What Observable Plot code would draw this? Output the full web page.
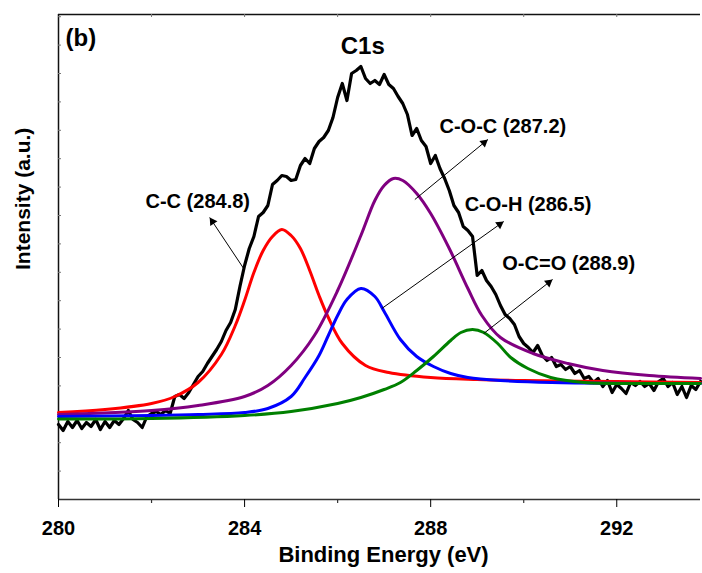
<!DOCTYPE html>
<html>
<head>
<meta charset="utf-8">
<script src="https://cdn.jsdelivr.net/npm/d3@7"></script>
<script src="https://cdn.jsdelivr.net/npm/@observablehq/plot@0.6"></script>
<style>
  html, body { margin: 0; padding: 0; background: #fff; overflow: hidden; }
  #chart svg { display: block; }
</style>
</head>
<body>
<div id="chart"></div>
<script>
// Measured C1s spectrum, 280.0–293.8 eV in 0.1 eV steps (intensity, a.u.)
const spectrumStart = 280.0;
const spectrumStep = 0.1;
const spectrum = [
  75, 69, 78, 72, 79, 71, 77, 73, 80, 70,
  78, 72, 79, 75, 81, 89, 80, 77, 72, 83,
  86, 88, 85, 89, 86, 103, 105, 101, 107, 115,
  123, 128, 136, 143, 150, 158, 169, 177, 190, 213,
  234, 251, 263, 283, 287, 294, 315, 319, 324, 323,
  319, 320, 334, 341, 336, 351, 358, 362, 369, 382,
  402, 416, 399, 426, 429, 433, 421, 416, 419, 415,
  425, 415, 411, 403, 396, 385, 364, 371, 359, 353,
  336, 344, 331, 321, 309, 294, 287, 273, 269, 263,
  224, 229, 219, 213, 205, 194, 185, 181, 175, 163,
  156, 152, 147, 154, 144, 139, 142, 133, 135, 130,
  133, 126, 129, 121, 123, 117, 121, 113, 119, 107,
  115, 111, 106, 117, 114, 118, 113, 116, 109, 118,
  121, 113, 117, 105, 113, 102, 114, 110, 118
];

// Fitted components (peak + background), energy in eV and intensity in a.u.
const ccEnergy    = [280, 281, 282, 282.5, 283, 283.5, 283.8, 284.0, 284.2, 284.4, 284.6, 284.8, 285.0, 285.2, 285.4, 285.6, 285.8, 286.1, 286.6, 287.1, 288, 289, 290, 292, 293.8];
const ccIntensity = [87, 90, 96, 103, 117, 145, 174, 199, 227, 249, 263, 270, 264, 251, 229, 204, 182, 156, 134, 127, 122, 120, 119, 118, 117];

const cocEnergy    = [280, 282, 283, 284, 284.5, 285, 285.5, 286, 286.5, 286.8, 287.0, 287.2, 287.4, 287.7, 288.0, 288.4, 288.8, 289.1, 289.5, 290.2, 290.95, 291.7, 292.7, 293.8];
const cocIntensity = [85, 89, 94, 103, 114, 134, 164, 209, 264, 299, 314, 321, 319, 306, 286, 251, 211, 184, 162, 146, 136, 129, 124, 121];

const cohEnergy    = [280, 282, 283, 284, 284.5, 285, 285.3, 285.6, 285.8, 286.0, 286.2, 286.5, 286.8, 287.0, 287.35, 287.7, 288.06, 288.43, 288.8, 289.5, 290.6, 293.8];
const cohIntensity = [83, 84, 85, 87, 91, 103, 122, 144, 164, 184, 200, 211, 203, 188, 160, 143, 133, 126, 122, 119, 117, 116];

const ocoEnergy    = [280, 282, 284, 285, 286, 286.5, 287.0, 287.35, 287.7, 288.06, 288.43, 288.65, 288.9, 289.14, 289.44, 289.72, 290.09, 290.58, 291.3, 292.37, 293.8];
const ocoIntensity = [80.5, 81, 84, 88, 96, 102, 110, 117, 129, 143, 159, 167, 170, 167, 156, 142, 131, 122, 117, 116, 116];

// Peak annotations: label text, label anchor, and arrow from curve to label
const peakNames      = ["C-C (284.8)", "C-O-C (287.2)", "C-O-H (286.5)", "O-C=O (288.9)"];
const labelEnergy    = [281.87, 288.19, 288.73, 289.54];
const labelIntensity = [292, 367, 289, 230];
const arrowFromE     = [283.98, 287.66, 286.95, 289.14];
const arrowFromI     = [231, 300, 191, 166];
const arrowToE       = [283.25, 289.23, 289.57, 290.62];
const arrowToI       = [282, 360, 278, 220];

// Axis ticks
const majorTicks = [280, 284, 288, 292];
const minorTicks = [282, 286, 290];
const topTicks   = [282, 284, 286, 288, 290, 292];
const yTicks     = d3.range(0, 485, 28.4);

// Layout
const W = 702, H = 573;
const mL = 58, mR = 2, mT = 14, mB = 74;
const xDomain = [280, 293.8];
const yDomain = [0, 485];
const kx = (W - mL - mR) / (xDomain[1] - xDomain[0]);
const ky = (H - mT - mB) / (yDomain[1] - yDomain[0]);

const font = "'Liberation Sans', Arial, Helvetica, sans-serif";

const spectrumRows = spectrum.map((v, i) => ({E: spectrumStart + i * spectrumStep, I: v}));
const comp = (es, is) => es.map((e, i) => ({E: e, I: is[i]}));
const fits = [
  {rows: comp(ccEnergy, ccIntensity), color: "#ff0000"},
  {rows: comp(cocEnergy, cocIntensity), color: "#800080"},
  {rows: comp(cohEnergy, cohIntensity), color: "#0000ff"},
  {rows: comp(ocoEnergy, ocoIntensity), color: "#008000"}
];

// Arrow rows with filled triangular heads oriented along each arrow
const headR = 3.2;
const headOffset = 2 * Math.sqrt((Math.PI * headR * headR) / (3 * Math.sqrt(3)));
const arrows = peakNames.map((name, i) => {
  const dxs = (arrowToE[i] - arrowFromE[i]) * kx;
  const dys = -(arrowToI[i] - arrowFromI[i]) * ky;
  const len = Math.hypot(dxs, dys);
  const ux = dxs / len, uy = dys / len;
  return {
    x1: arrowFromE[i], y1: arrowFromI[i],
    x2: arrowToE[i], y2: arrowToI[i],
    hx: arrowToE[i] - headOffset * ux / kx,
    hy: arrowToI[i] + headOffset * uy / ky,
    angle: Math.atan2(dxs, -dys) * 180 / Math.PI
  };
});
const labels = peakNames.map((t, i) => ({text: t, E: labelEnergy[i], I: labelIntensity[i]}));

const chart = Plot.plot({
  width: W,
  height: H,
  marginLeft: mL,
  marginRight: mR,
  marginTop: mT,
  marginBottom: mB,
  style: {fontFamily: font, background: "#fff", color: "#000"},
  x: {domain: xDomain},
  y: {domain: yDomain, axis: null},
  marks: [
    // frame: top, left and bottom edges
    Plot.ruleY([yDomain[1]], {stroke: "#111", strokeWidth: 1.5}),
    Plot.ruleY([yDomain[0]], {stroke: "#333", strokeWidth: 1.5}),
    Plot.ruleX([xDomain[0]], {stroke: "#111", strokeWidth: 1.5}),
    // inner ticks on the left and top edges
    Plot.ruleY(yTicks.slice(1), {x1: xDomain[0], x2: xDomain[0] + 3 / kx, stroke: "#777", strokeWidth: 1}),
    Plot.ruleX(topTicks, {y1: yDomain[1], y2: yDomain[1] - 3 / ky, stroke: "#777", strokeWidth: 1}),
    // bottom axis
    Plot.ruleX(minorTicks, {y1: 0, y2: -4 / ky, stroke: "#333", strokeWidth: 1.2}),
    Plot.axisX({
      ticks: majorTicks,
      tickSize: 8,
      tickPadding: 13,
      tickFormat: d => String(d),
      fontSize: 20,
      fontWeight: "bold",
      label: null
    }),
    Plot.text(["Binding Energy (eV)"], {frameAnchor: "bottom", dx: 4, dy: 62, fontSize: 22, fontWeight: "bold", fill: "#000"}),
    Plot.text(["Intensity (a.u.)"], {frameAnchor: "left", dx: -35, dy: 13, rotate: -90, fontSize: 21, fontWeight: "bold", fill: "#000"}),

    // measured spectrum
    Plot.line(spectrumRows, {x: "E", y: "I", stroke: "#000", strokeWidth: 3.2, strokeLinejoin: "round"}),
    // fitted components
    ...fits.map(f => Plot.line(f.rows, {x: "E", y: "I", stroke: f.color, strokeWidth: 3, curve: "catmull-rom"})),

    // annotations
    Plot.link(arrows, {x1: "x1", y1: "y1", x2: "x2", y2: "y2", stroke: "#000", strokeWidth: 1}),
    Plot.dot(arrows, {x: "hx", y: "hy", symbol: "triangle", r: headR, rotate: "angle", fill: "#000", stroke: "none"}),
    Plot.text(labels, {x: "E", y: "I", text: "text", textAnchor: "start", lineAnchor: "bottom", fontSize: 20, fontWeight: "bold", fill: "#000"}),
    Plot.text(["C1s"], {x: [286.54], y: [446], textAnchor: "middle", lineAnchor: "bottom", fontSize: 24, fontWeight: "bold", fill: "#000"}),
    Plot.text(["(b)"], {x: [280.15], y: [454], textAnchor: "start", lineAnchor: "bottom", fontSize: 24, fontWeight: "bold", fill: "#000"})
  ]
});

document.getElementById("chart").append(chart);
</script>
</body>
</html>
